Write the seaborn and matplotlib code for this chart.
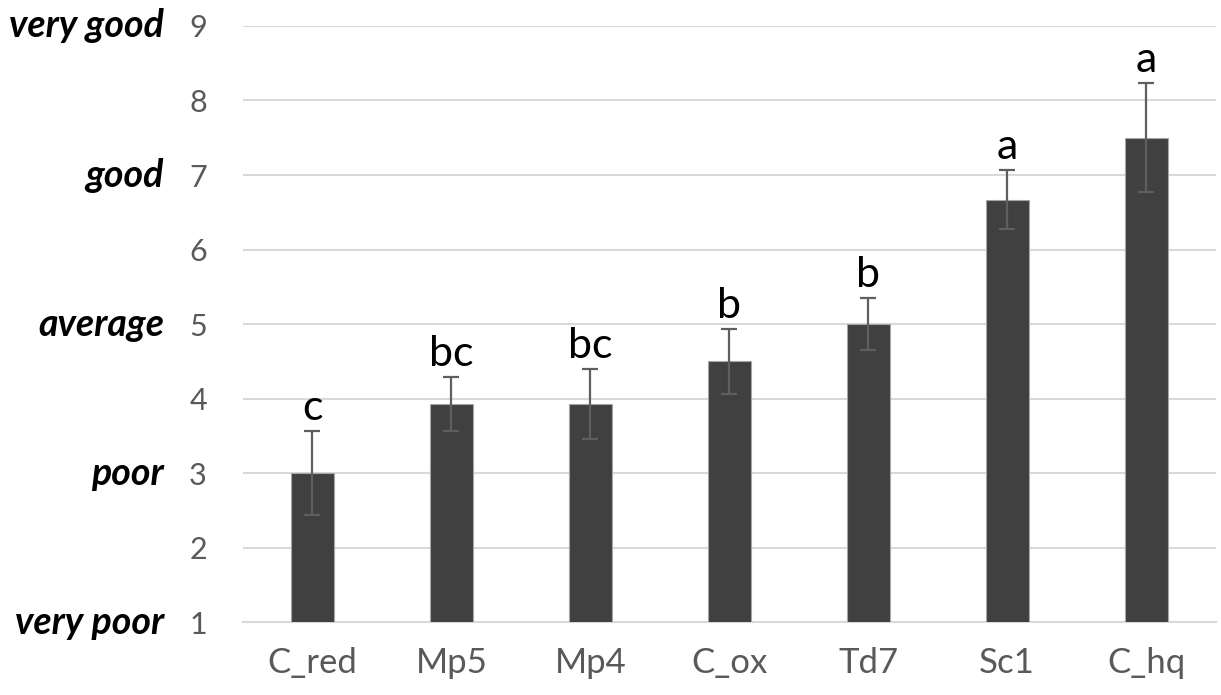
import matplotlib
matplotlib.use("Agg")
import matplotlib.pyplot as plt
import seaborn as sns
import pandas as pd

# Sensory score per treatment (mean ± SD) and significance groups
categories = ["C_red", "Mp5", "Mp4", "C_ox", "Td7", "Sc1", "C_hq"]
means = [3.0, 3.93, 3.93, 4.5, 5.0, 6.67, 7.5]
errors = [0.57, 0.36, 0.47, 0.435, 0.35, 0.40, 0.73]
letters = ["c", "bc", "bc", "b", "b", "a", "a"]

# Verbal anchors of the rating scale
scale_values = [1, 3, 5, 7, 9]
scale_names = ["very poor", "poor", "average", "good", "very good"]
y_ticks = [1, 2, 3, 4, 5, 6, 7, 8, 9]

sns.set_theme(style="white")
plt.rcParams["font.family"] = ["Lato", "DejaVu Sans"]

df = pd.DataFrame({"treatment": categories, "score": means})

fig = plt.figure(figsize=(12.21, 6.95), dpi=100)
ax = fig.add_axes([0.199, 0.105, 0.7965, 0.8576])

sns.barplot(data=df, x="treatment", y="score", order=categories,
            color="#404040", saturation=1, width=0.31,
            edgecolor="#a6a6a6", linewidth=0.8, errorbar=None, ax=ax,
            zorder=3)

xpos = list(range(len(categories)))
ax.errorbar(xpos, means, yerr=errors, fmt="none", ecolor="#5f5f5f",
            elinewidth=1.6, capsize=6, capthick=1.6, zorder=4)

for x, m, e, lab in zip(xpos, means, errors, letters):
    ax.annotate(lab, xy=(x, m + e), xytext=(0, 11), textcoords="offset pixels",
                ha="center", va="baseline", fontsize=31, color="black",
                zorder=5)

ax.set_ylim(1, 9)
ax.set_xlim(-0.5, len(categories) - 0.5)
ax.set_yticks(y_ticks)
ax.set_yticklabels([str(t) for t in y_ticks])
ax.yaxis.grid(True, color="#d9d9d9", linewidth=1.5, zorder=0)
ax.set_axisbelow(True)

for side in ["top", "right", "left"]:
    ax.spines[side].set_visible(False)
ax.spines["bottom"].set_color("#d9d9d9")
ax.spines["bottom"].set_linewidth(1.5)

ax.tick_params(axis="y", length=0, pad=26, labelsize=22, labelcolor="#595959")
ax.tick_params(axis="x", length=0, pad=18, labelsize=25, labelcolor="#595959")
ax.set_xlabel("")
ax.set_ylabel("")

for v, name in zip(scale_values, scale_names):
    ax.annotate(name, xy=(0, v), xycoords=ax.get_yaxis_transform(),
                xytext=(-79, 0), textcoords="offset pixels",
                ha="right", va="center", fontsize=27, fontweight="bold",
                fontstyle="italic", color="black")

fig.savefig("out.png", dpi=100)
